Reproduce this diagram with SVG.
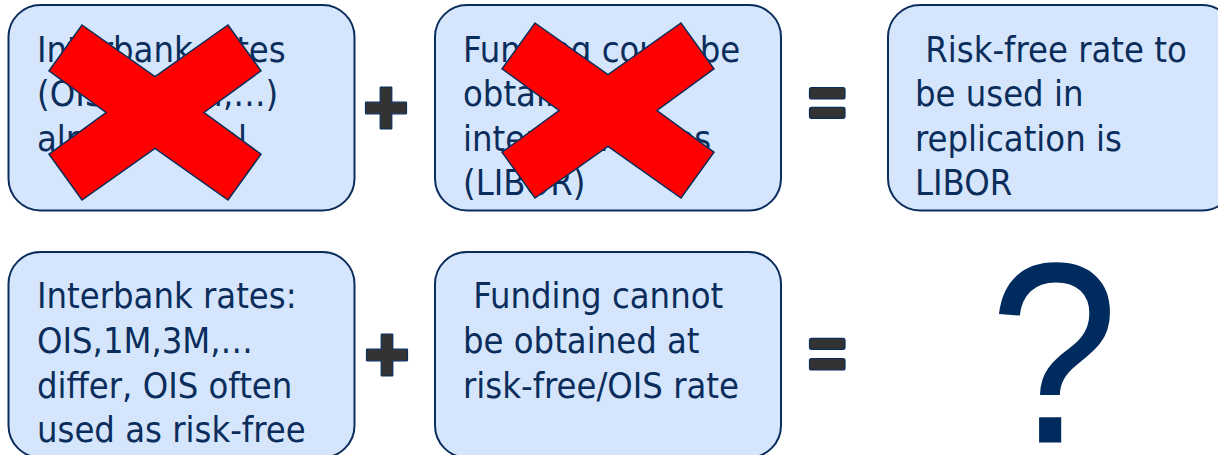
<svg xmlns="http://www.w3.org/2000/svg" xmlns:xlink="http://www.w3.org/1999/xlink" width="1218" height="455" viewBox="0 0 1218 455">
  <defs>
    <style>
      .box { fill: #d5e6fc; stroke: #0b2d5c; stroke-width: 2; }
      .txt { font-family: "DejaVu Sans Condensed", "DejaVu Sans", sans-serif; font-stretch: condensed; font-size: 36px; fill: #0b2d5c; }
      .op { fill: #333333; stroke: #0b2d5c; stroke-width: 1.2; stroke-linejoin: round; }
      .xmark { fill: #ff0000; stroke: #0b2d5c; stroke-width: 1.5; stroke-linejoin: miter; }
      .q { font-family: "Liberation Sans", Arial, sans-serif; font-size: 258px; fill: #002b5e; }
    </style>
    <path id="cross" d="M -73,-87.5 L 0,-35.8 L 73,-87.5 L 106,-41.7 L 49,0 L 106,41.7 L 73,87.5 L 0,35.8 L -73,87.5 L -106,41.7 L -49,0 L -106,-41.7 Z"/>
    <path id="plus" d="M -5.8,-20.5 Q -5.8,-21 -5.3,-21 L 5.3,-21 Q 5.8,-21 5.8,-20.5 L 5.8,-5.8 L 20,-5.8 Q 20.5,-5.8 20.5,-5.3 L 20.5,5.3 Q 20.5,5.8 20,5.8 L 5.8,5.8 L 5.8,20.5 Q 5.8,21 5.3,21 L -5.3,21 Q -5.8,21 -5.8,20.5 L -5.8,5.8 L -20,5.8 Q -20.5,5.8 -20.5,5.3 L -20.5,-5.3 Q -20.5,-5.8 -20,-5.8 L -5.8,-5.8 Z"/>
  </defs>

  <g id="node-interbank-equal">
    <rect class="box" x="8.5" y="5" width="346" height="205.5" rx="32" ry="32"/>
    <text class="txt" x="37" y="61.7">Interbank rates</text>
    <text class="txt" x="37" y="106">(OIS,1M,3M,…)</text>
    <text class="txt" x="37" y="150.5">almost equal</text>
    <use xlink:href="#cross" class="xmark" x="155" y="112.5"/>
  </g>

  <g id="node-funding-libor">
    <rect class="box" x="435" y="5" width="346" height="205.5" rx="32" ry="32"/>
    <text class="txt" x="463" y="61.7">Funding could be</text>
    <text class="txt" x="463" y="106">obtained at</text>
    <text class="txt" x="463" y="150.5">interbank rates</text>
    <text class="txt" x="463" y="195">(LIBOR)</text>
    <use xlink:href="#cross" class="xmark" x="608" y="110.5"/>
  </g>

  <g id="node-libor-result">
    <rect class="box" x="888" y="5" width="346" height="205.5" rx="32" ry="32"/>
    <text class="txt" x="915" y="61.7" xml:space="preserve"> Risk-free rate to</text>
    <text class="txt" x="915" y="106">be used in</text>
    <text class="txt" x="915" y="150.5">replication is</text>
    <text class="txt" x="915" y="195">LIBOR</text>
  </g>

  <g id="node-interbank-differ">
    <rect class="box" x="8.5" y="252" width="346" height="205.5" rx="32" ry="32"/>
    <text class="txt" x="37" y="308.3">Interbank rates:</text>
    <text class="txt" x="37" y="353">OIS,1M,3M,…</text>
    <text class="txt" x="37" y="397.5">differ, OIS often</text>
    <text class="txt" x="37" y="442">used as risk-free</text>
  </g>

  <g id="node-funding-cannot">
    <rect class="box" x="435" y="252" width="346" height="205.5" rx="32" ry="32"/>
    <text class="txt" x="463" y="308.3" xml:space="preserve"> Funding cannot</text>
    <text class="txt" x="463" y="353">be obtained at</text>
    <text class="txt" x="463" y="397.5">risk-free/OIS rate</text>
  </g>

  <g id="node-question">
    <text class="q" transform="translate(1054,442.5) scale(0.9,1)" x="0" y="0" text-anchor="middle">?</text>
  </g>

  <g id="connectors">
    <use xlink:href="#plus" class="op" x="386" y="108"/>
    <use xlink:href="#plus" class="op" x="387" y="355"/>
    <rect class="op" x="809.5" y="87.5" width="35.5" height="11.5" rx="2"/>
    <rect class="op" x="809.5" y="107.3" width="35.5" height="11" rx="2"/>
    <rect class="op" x="809.5" y="338.3" width="35.5" height="11" rx="2"/>
    <rect class="op" x="809.5" y="358.5" width="35.5" height="11.5" rx="2"/>
  </g>
</svg>
